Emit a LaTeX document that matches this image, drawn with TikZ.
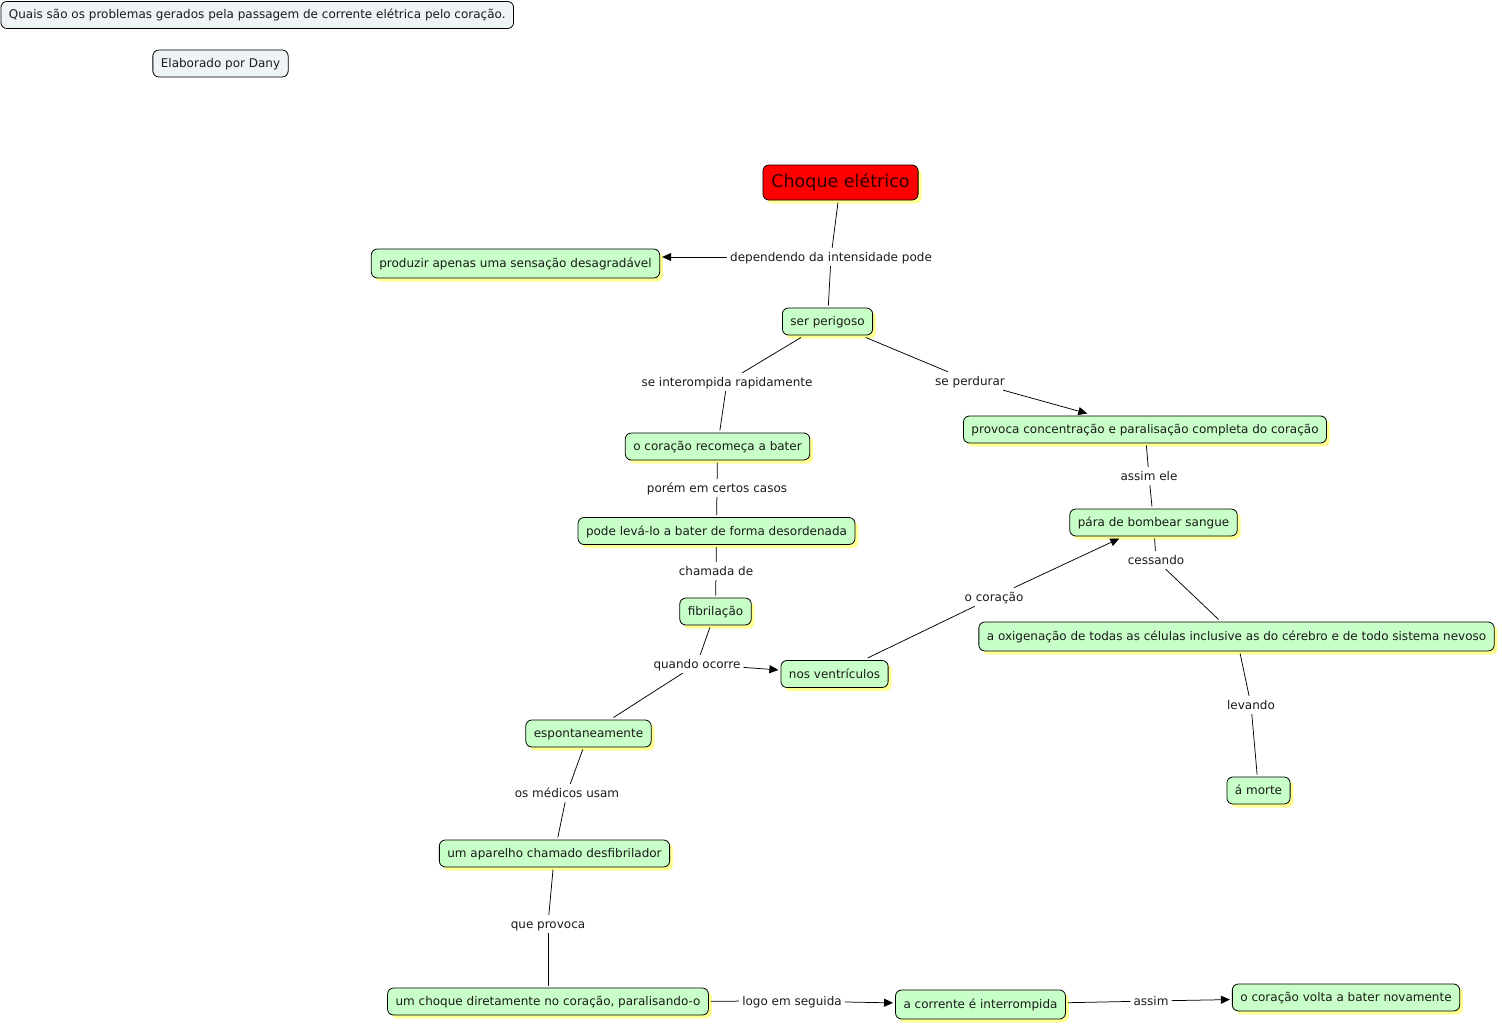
\documentclass[tikz,border=0pt]{standalone}
\usepackage{fontspec}
\setmainfont{DejaVu Sans}
\usetikzlibrary{arrows.meta,shadows}
\definecolor{cgreen}{HTML}{C8FFC8}
\definecolor{cshadow}{HTML}{FFFF96}
\definecolor{cred}{HTML}{FF0000}
\definecolor{cinfo}{HTML}{EEF4F6}
\definecolor{ctext}{HTML}{1A1A1A}
\definecolor{credtext}{HTML}{2A0000}
\begin{document}
\begin{tikzpicture}[x=1pt,y=-1pt,
  basefont/.style={font=\fontsize{12}{14}\selectfont, text height=10pt, text depth=2pt},
  concept/.style={basefont, draw=black, line width=0.8pt, rounded corners=6pt,
    fill=cgreen, text=ctext, inner xsep=8pt, inner ysep=7.5pt, outer sep=2.5pt,
    copy shadow={shadow xshift=3.5pt, shadow yshift=-3.5pt, fill=cshadow, draw=none}},
  tall/.style={inner ysep=8.5pt},
  info/.style={basefont, draw=black, line width=0.8pt, rounded corners=6pt,
    fill=cinfo, text=ctext, inner xsep=8pt, inner ysep=7.5pt},
  main/.style={font=\fontsize{17.5}{20}\selectfont, text height=13.5pt, text depth=3.5pt,
    draw=black, line width=0.8pt, rounded corners=6pt, fill=cred, text=credtext,
    inner xsep=8.5pt, inner ysep=9pt, outer sep=2.5pt,
    copy shadow={shadow xshift=3.5pt, shadow yshift=-3.5pt, fill=cshadow, draw=none}},
  lbl/.style={basefont, text=ctext, inner xsep=3pt, inner ysep=3pt},
  link/.style={draw=black, line width=0.75pt},
  arr/.style={link, -{Triangle[length=9pt,width=8pt]}}
]
\useasboundingbox (0,0) rectangle (1502,1025);

% info nodes
\node[info, anchor=west] (q) at (0.5,15) {Quais são os problemas gerados pela passagem de corrente elétrica pelo coração.};
\node[info] (dany) at (220.5,63.5) {Elaborado por Dany};

% concepts
\node[main] (choque) at (840.5,182.5) {Choque elétrico};
\node[concept, tall] (prod) at (515.5,263.5) {produzir apenas uma sensação desagradável};
\node[concept] (perigoso) at (827.5,321.5) {ser perigoso};
\node[concept] (recomeca) at (717.5,446.5) {o coração recomeça a bater};
\node[concept] (provoca) at (1145,429.5) {provoca concentração e paralisação completa do coração};
\node[concept] (pode) at (716.5,531) {pode levá-lo a bater de forma desordenada};
\node[concept] (para) at (1153.5,522.5) {pára de bombear sangue};
\node[concept] (fib) at (715.5,611.5) {fibrilação};
\node[concept, tall] (oxig) at (1236.5,636.5) {a oxigenação de todas as células inclusive as do cérebro e de todo sistema nevoso};
\node[concept] (ventr) at (834.5,674) {nos ventrículos};
\node[concept] (espont) at (588.5,733.5) {espontaneamente};
\node[concept] (morte) at (1258.5,790.5) {á morte};
\node[concept] (aparelho) at (554.5,853.5) {um aparelho chamado desfibrilador};
\node[concept] (choque2) at (548,1001.5) {um choque diretamente no coração, paralisando-o};
\node[concept, tall] (corrente) at (980.5,1004.5) {a corrente é interrompida};
\node[concept] (volta) at (1346,997.5) {o coração volta a bater novamente};

% link labels
\node[lbl] (l1) at (831,257) {dependendo da intensidade pode};
\node[lbl] (l2) at (727,382) {se interompida rapidamente};
\node[lbl] (l3) at (970,381) {se perdurar};
\node[lbl] (l4) at (717,488) {porém em certos casos};
\node[lbl] (l5) at (1149,476) {assim ele};
\node[lbl] (l6) at (716,571) {chamada de};
\node[lbl] (l7) at (1156,560) {cessando};
\node[lbl] (l8) at (994,597) {o coração};
\node[lbl] (l9) at (697,664) {quando ocorre};
\node[lbl] (l10) at (1251,705) {levando};
\node[lbl] (l11) at (567,793) {os médicos usam};
\node[lbl] (l12) at (548,924) {que provoca};
\node[lbl] (l13) at (792,1001) {logo em seguida};
\node[lbl] (l14) at (1151,1001) {assim};

% connectors
\draw[link] (choque) -- (l1);
\draw[link] (l1) -- (perigoso);
\draw[arr] (l1.west) -- (l1.west -| prod.east);
\draw[link] (perigoso) -- (l2);
\draw[link] (l2) -- (recomeca);
\draw[link] (perigoso) -- (l3);
\draw[arr] (l3) -- (provoca);
\draw[link] (recomeca) -- (l4);
\draw[link] (l4) -- (pode);
\draw[link] (provoca) -- (l5);
\draw[link] (l5) -- (para);
\draw[link] (pode) -- (l6);
\draw[link] (l6) -- (fib);
\draw[link] (para) -- (l7);
\draw[link] (l7) -- (oxig);
\draw[link] (ventr) -- (l8);
\draw[arr] (l8) -- (para);
\draw[link] (fib) -- (l9);
\draw[link] (l9) -- (espont);
\draw[arr] (l9) -- (ventr);
\draw[link] (oxig) -- (l10);
\draw[link] (l10) -- (morte);
\draw[link] (espont) -- (l11);
\draw[link] (l11) -- (aparelho);
\draw[link] (aparelho) -- (l12);
\draw[link] (l12) -- (choque2);
\draw[link] (choque2) -- (l13);
\draw[arr] (l13) -- (corrente);
\draw[link] (corrente) -- (l14);
\draw[arr] (l14) -- (volta);
\end{tikzpicture}
\end{document}
